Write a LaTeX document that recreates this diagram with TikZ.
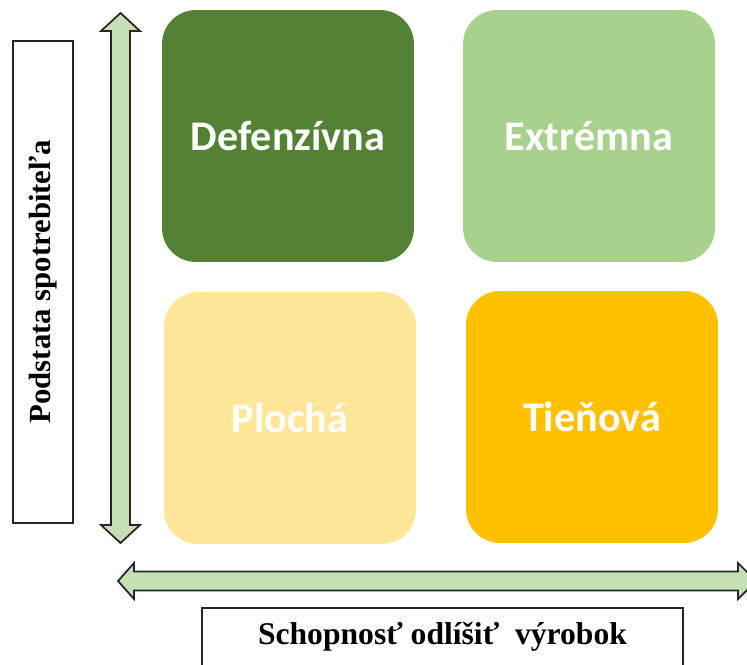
\documentclass[tikz,border=0pt]{standalone}
\usepackage{fontspec}
\setmainfont{Liberation Serif}
\newfontfamily\boxfont{Carlito}
\usepackage{xcolor}
\usepackage{tikz}
\usetikzlibrary{positioning}

\definecolor{darkgreen}{HTML}{548235}
\definecolor{lightgreen}{HTML}{A9D18E}
\definecolor{lightyellow}{HTML}{FFE699}
\definecolor{amber}{HTML}{FFC000}
\definecolor{arrowfill}{HTML}{C5E0B4}

\begin{document}
\begin{tikzpicture}[
    x=0.02cm, y=-0.02cm,
    quad/.style  = {rectangle, rounded corners=0.68cm, draw=none,
                    minimum width=5.04cm, minimum height=5.04cm,
                    text=white, font=\boxfont\bfseries\fontsize{24}{27}\selectfont},
    axlab/.style = {rectangle, draw=black!85, line width=1pt, fill=white,
                    font=\bfseries\fontsize{18}{20}\selectfont},
    axarr/.style = {draw=black!85, line width=1pt, fill=arrowfill, line join=miter}
]
\clip (0,0) rectangle (747,664);

% Quadrants
\node[quad, fill=darkgreen]   (def) at (288,136) {Defenzívna};
\node[quad, fill=lightgreen]  (ext) at (589,136) {Extrémna};
\node[quad, fill=lightyellow] (plo) at (290,418) {Plochá};
\node[quad, fill=amber]       (tie) at (592,417) {Tieňová};

% Axis labels
\node[axlab, rotate=90, minimum width=9.64cm, minimum height=1.2cm,
      font=\bfseries\fontsize{17.5}{20}\selectfont] (ylab) at (43,282) {Podstata spotrebiteľa};
\node[axlab, minimum width=9.62cm, minimum height=1.16cm] (xlab) at (442.5,637) {Schopnosť odlíšiť\ \ výrobok};

% Vertical axis arrow
\draw[axarr] (120.5,13) -- (140,31) -- (130,31) -- (130,525) -- (140,525)
    -- (120.5,543) -- (101,525) -- (111,525) -- (111,31) -- (101,31) -- cycle;

% Horizontal axis arrow
\draw[axarr] (118,581) -- (134,563) -- (134,571.5) -- (738,571.5) -- (738,563)
    -- (756,581) -- (738,599) -- (738,590.5) -- (134,590.5) -- (134,599) -- cycle;
\end{tikzpicture}
\end{document}
